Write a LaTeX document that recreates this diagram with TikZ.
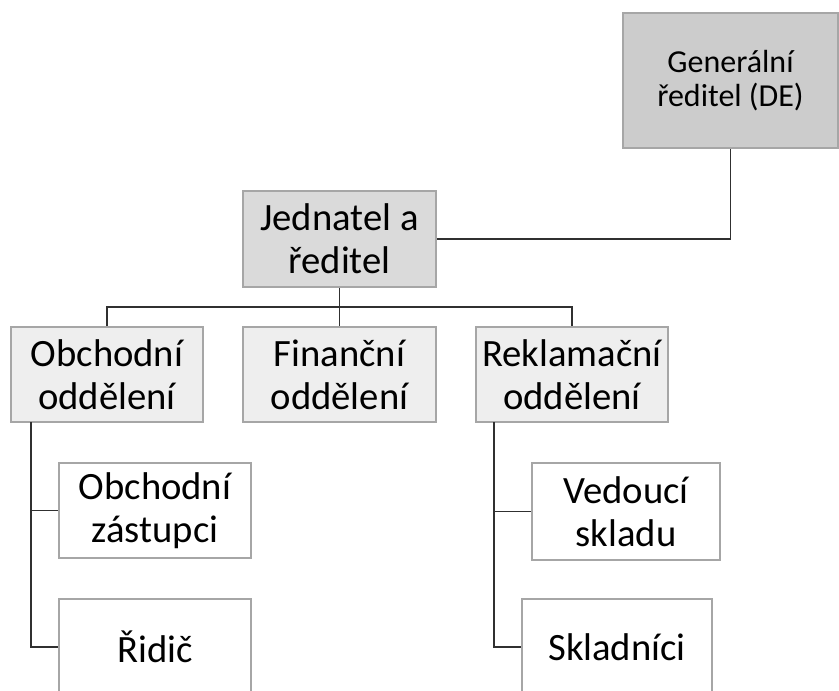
\documentclass[tikz,border=0pt]{standalone}
\usepackage{fontspec}
\setmainfont{Carlito}
\definecolor{boxline}{HTML}{A6A6A6}
\definecolor{linkline}{HTML}{303030}
\definecolor{fillone}{HTML}{CCCCCC}
\definecolor{filltwo}{HTML}{DADADA}
\definecolor{fillthree}{HTML}{EEEEEE}

\begin{document}
\begin{tikzpicture}[x=0.75pt,y=0.75pt]\tikzstyle{every node}+=[inner sep=0pt, align=center]
	  \tikzstyle{unit}=[draw=boxline, line width=1.4pt, rectangle, font=\fontsize{29}{32}\selectfont]
	  \tikzstyle{link}=[draw=linkline, line width=1pt]
	  \clip (0,0) rectangle (839,-690);
	  % top levels
	  \node [unit, fill=fillone, minimum width=215*0.75pt, minimum height=135*0.75pt, font=\fontsize{24}{26}\selectfont] (de) at (730.5,-80.5) {Generální\\ředitel (DE)};
	  \node [unit, fill=filltwo, minimum width=193*0.75pt, minimum height=96*0.75pt] (jed) at (339.5,-239) {Jednatel a\\ředitel};
	  % departments
	  \node [unit, fill=fillthree, minimum width=192*0.75pt, minimum height=95*0.75pt] (obch) at (107,-374.5) {Obchodní\\oddělení};
	  \node [unit, fill=fillthree, minimum width=193*0.75pt, minimum height=95*0.75pt] (fin) at (339.5,-374.5) {Finanční\\oddělení};
	  \node [unit, fill=fillthree, minimum width=192*0.75pt, minimum height=95*0.75pt] (rekl) at (572,-374.5) {Reklamační\\oddělení};
	  % staff
	  \node [unit, fill=white, minimum width=192*0.75pt, minimum height=95*0.75pt] (zast) at (155,-510.5) {Obchodní\\zástupci};
	  \node [unit, fill=white, minimum width=192*0.75pt, minimum height=96*0.75pt] (ridic) at (155,-647) {Řidič};
	  \node [unit, fill=white, minimum width=188*0.75pt, minimum height=97*0.75pt] (ved) at (626,-511.5) {Vedoucí\\skladu};
	  \node [unit, fill=white, minimum width=190*0.75pt, minimum height=96*0.75pt] (sklad) at (617,-647) {Skladníci};
	  \coordinate (bus) at (339.5,-307);
	  \coordinate (lroot) at (31,-422);
	  \coordinate (rroot) at (494,-422);
	  \draw [link] (de.south) |- (jed.east);
	  \draw [link] (jed.south) -- (fin.north);
	  \draw [link] (obch.north) |- (bus) -| (rekl.north);
	  \draw [link] (lroot) |- (zast.west);
	  \draw [link] (lroot) |- (ridic.west);
	  \draw [link] (rroot) |- (ved.west);
	  \draw [link] (rroot) |- (sklad.west);
	\end{tikzpicture}
\end{document}
